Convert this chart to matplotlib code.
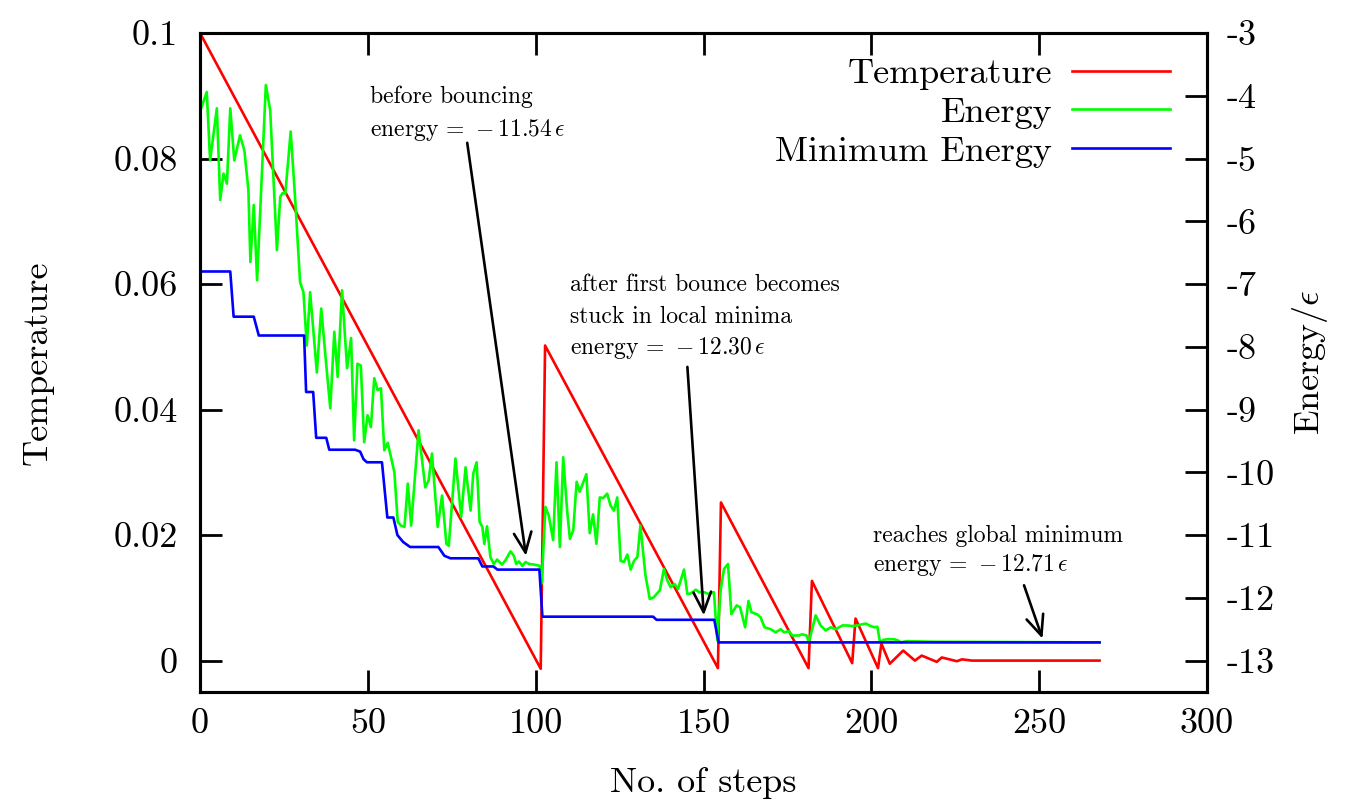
import matplotlib
matplotlib.use('Agg')
import matplotlib.pyplot as plt

plt.rcParams['font.family'] = 'cmr10'
plt.rcParams['mathtext.fontset'] = 'cm'
plt.rcParams['axes.unicode_minus'] = False

# temperature schedule (vertices), steps / temperature
temp_steps = [0, 101.5, 102.8, 154.3, 155.2, 181.3, 182.3, 194.3, 195.3, 202.0,
              203.0, 205.5, 209.5, 213.0, 215.0, 219.5, 221.0, 225.5, 227.0, 230.0, 268.0]
temp_vals = [0.1, -0.0013, 0.0502, -0.0012, 0.0252, -0.0012, 0.0127, -0.0004, 0.0067, -0.0012,
             0.0027, -0.0005, 0.0016, 0.0, 0.0008, -0.0002, 0.0005, -0.0001, 0.0002, 0.0, 0.0]

# energy per step
energy_steps = [0, 2.0, 3.0, 5.0, 6.0, 7.0, 8.0, 9.0, 10.2, 11.9, 13.2, 14.4, 15.0, 16.0, 17.0,
                19.6, 20.9, 22.9, 23.9, 24.6, 25.4, 27.0, 28.3, 29.8, 30.8, 31.8, 32.8, 34.8,
                36.1, 37.3, 38.8, 40.0, 41.0, 42.3, 43.8, 45.0, 45.9, 46.9, 47.9, 48.9, 49.9,
                50.9, 51.9, 52.9, 53.9, 54.9, 55.9, 56.9, 57.9, 58.9, 59.9, 60.9, 61.9, 62.9,
                65.1, 67.1, 68.1, 69.1, 70.8, 72.1, 73.4, 74.1, 76.1, 77.8, 79.1, 80.6, 81.4,
                82.4, 83.3, 84.1, 84.7, 85.5, 86.5, 87.5, 88.5, 90.0, 91.0, 92.5, 93.5, 94.2,
                95.0, 96.0, 97.0, 98.0, 99.5, 101.2, 101.8, 102.9, 103.9, 105.2, 106.2, 107.2,
                108.2, 109.4, 110.2, 111.2, 112.2, 113.1, 115.1, 116.1, 117.1, 118.1, 119.1,
                120.1, 121.3, 122.3, 123.3, 124.3, 125.3, 126.3, 127.3, 128.3, 129.3, 130.3,
                131.2, 132.7, 134.0, 135.2, 137.0, 138.2, 139.2, 140.2, 141.4, 142.4, 144.2,
                145.2, 146.2, 147.7, 148.7, 150.1, 151.6, 153.1, 154.1, 155.1, 156.1, 157.3,
                158.3, 159.9, 160.9, 162.4, 163.4, 164.3, 165.9, 167.0, 168.2, 170.0, 171.5,
                173.0, 174.0, 175.4, 176.5, 178.5, 179.4, 180.7, 181.4, 183.4, 184.9, 186.4,
                187.9, 189.4, 191.4, 192.9, 194.4, 195.9, 197.4, 198.4, 199.4, 200.9, 201.8,
                202.6, 203.6, 204.8, 206.8, 208.0, 208.8, 210.5, 218.5, 268.0]
energy_vals = [-4.25, -3.94, -5.03, -4.20, -5.66, -5.24, -5.40, -4.20, -5.03, -4.63, -4.87, -5.50,
               -6.65, -5.74, -6.94, -3.83, -4.23, -6.46, -5.61, -5.55, -5.56, -4.57, -5.61, -6.97,
               -7.13, -7.98, -7.13, -8.41, -7.39, -8.11, -8.98, -7.76, -8.48, -7.10, -8.34, -7.86,
               -9.49, -8.27, -8.30, -9.52, -9.09, -9.28, -8.50, -8.69, -8.66, -9.65, -9.53, -9.76,
               -10.00, -10.79, -10.85, -10.87, -10.18, -10.85, -9.33, -10.24, -10.13, -9.70,
               -10.87, -10.37, -11.14, -11.17, -9.78, -10.71, -9.92, -10.61, -10.02, -9.84,
               -10.79, -10.87, -11.14, -10.86, -11.35, -11.46, -11.39, -11.47, -11.40, -11.26,
               -11.33, -11.46, -11.42, -11.49, -11.43, -11.46, -11.47, -11.49, -11.77, -10.55,
               -10.69, -11.08, -9.84, -11.19, -9.76, -10.63, -11.06, -10.92, -10.15, -10.31,
               -10.03, -10.97, -10.67, -11.14, -10.40, -10.41, -10.34, -10.53, -10.61, -10.40,
               -11.41, -11.43, -11.31, -11.55, -11.41, -11.35, -10.85, -11.64, -12.02, -11.99,
               -11.88, -11.54, -11.72, -11.83, -11.78, -11.86, -11.55, -11.94, -11.93, -11.87,
               -11.91, -11.91, -11.94, -11.91, -12.68, -11.88, -11.54, -11.46, -12.26, -12.12,
               -12.15, -12.47, -12.05, -12.23, -12.26, -12.31, -12.47, -12.50, -12.55, -12.50,
               -12.55, -12.53, -12.60, -12.60, -12.58, -12.60, -12.71, -12.28, -12.44, -12.52,
               -12.47, -12.50, -12.44, -12.44, -12.45, -12.44, -12.42, -12.41, -12.44, -12.47,
               -12.46, -12.71, -12.67, -12.66, -12.66, -12.68, -12.71, -12.69, -12.70, -12.71]

# minimum energy found so far
min_steps = [0, 9.0, 10.0, 16.0, 17.5, 31.0, 31.6, 33.7, 34.6, 37.6, 38.5, 46.2, 47.7, 48.7, 49.7,
             54.2, 55.8, 57.6, 58.8, 60.5, 62.6, 71.0, 72.8, 74.6, 82.9, 84.1, 87.4, 88.6,
             101.1, 102.0, 135.0, 136.0, 153.2, 154.5, 268.0]
min_vals = [-6.80, -6.80, -7.52, -7.52, -7.82, -7.82, -8.72, -8.72, -9.45, -9.45, -9.64, -9.64,
            -9.67, -9.79, -9.84, -9.84, -10.72, -10.72, -11.00, -11.11, -11.19, -11.19, -11.33,
            -11.37, -11.37, -11.50, -11.50, -11.55, -11.55, -12.30, -12.30, -12.35, -12.35,
            -12.71, -12.71]

fig = plt.figure(figsize=(13.49, 8.05), dpi=100)
ax = fig.add_axes([0.1483, 0.1404, 0.7464, 0.8186])
ax2 = ax.twinx()

l1, = ax.plot(temp_steps, temp_vals, color='#ff0000', lw=1.9)
l2, = ax2.plot(energy_steps, energy_vals, color='#00ff00', lw=1.9)
l3, = ax2.plot(min_steps, min_vals, color='#0000ff', lw=1.9)

ax.set_xlim(0, 300)
ax.set_ylim(-0.005, 0.1)
ax2.set_ylim(-13.5, -3)

ax.set_xticks([0, 50, 100, 150, 200, 250, 300])
ax.set_xticklabels(['0', '50', '100', '150', '200', '250', '300'])
ax.set_yticks([0, 0.02, 0.04, 0.06, 0.08, 0.1])
ax.set_yticklabels(['0', '0.02', '0.04', '0.06', '0.08', '0.1'])
ax2.set_yticks(range(-13, -2))
ax2.set_yticklabels([str(v) for v in range(-13, -2)])

ax.tick_params(axis='both', direction='in', length=16, width=2, labelsize=26)
ax.tick_params(axis='x', top=True, pad=12)
ax.tick_params(axis='y', pad=16)
ax2.tick_params(axis='y', direction='in', length=16, width=2, labelsize=26, pad=14)
for a in (ax, ax2):
    for s in a.spines.values():
        s.set_linewidth(2.2)

ax.set_xlabel('No. of steps', fontsize=26, va='center')
ax.xaxis.set_label_coords(0.5, -0.138)
ax.set_ylabel('Temperature', fontsize=26, va='center')
ax.yaxis.set_label_coords(-0.161, 0.5)
ax2.set_ylabel(r'Energy$/\epsilon$', fontsize=26, va='center', rotation=90)
ax2.yaxis.set_label_coords(1.102, 0.5)

ax2.legend([l1, l2, l3], ['Temperature', 'Energy', 'Minimum Energy'],
           loc='upper right', bbox_to_anchor=(0.963, 0.962), markerfirst=False,
           frameon=False, fontsize=26, handlelength=2.7, handletextpad=0.55,
           labelspacing=0.18, borderpad=0, borderaxespad=0)

arrow = dict(arrowstyle='->,head_length=0.8,head_width=0.35', lw=1.9, color='black',
             mutation_scale=18, shrinkA=0, shrinkB=0)
ax2.annotate('', xy=(97.1, -11.33), xytext=(79.6, -4.75), arrowprops=arrow)
ax2.annotate('', xy=(150.1, -12.28), xytext=(145.2, -8.32), arrowprops=arrow)
ax2.annotate('', xy=(251.0, -12.65), xytext=(245.5, -11.80), arrowprops=arrow)

ax2.text(50.7, -4.02, 'before bouncing', fontsize=17, va='center')
ax2.text(50.7, -4.55, r'energy$\,=\,-11.54\,\epsilon$', fontsize=17, va='center')
ax2.text(110.3, -7.02, 'after first bounce becomes', fontsize=17, va='center')
ax2.text(110.3, -7.53, 'stuck in local minima', fontsize=17, va='center')
ax2.text(110.3, -8.02, r'energy$\,=\,-12.30\,\epsilon$', fontsize=17, va='center')
ax2.text(200.4, -11.01, 'reaches global minimum', fontsize=17, va='center')
ax2.text(200.4, -11.48, r'energy$\,=\,-12.71\,\epsilon$', fontsize=17, va='center')

fig.savefig('out.png', dpi=100)
